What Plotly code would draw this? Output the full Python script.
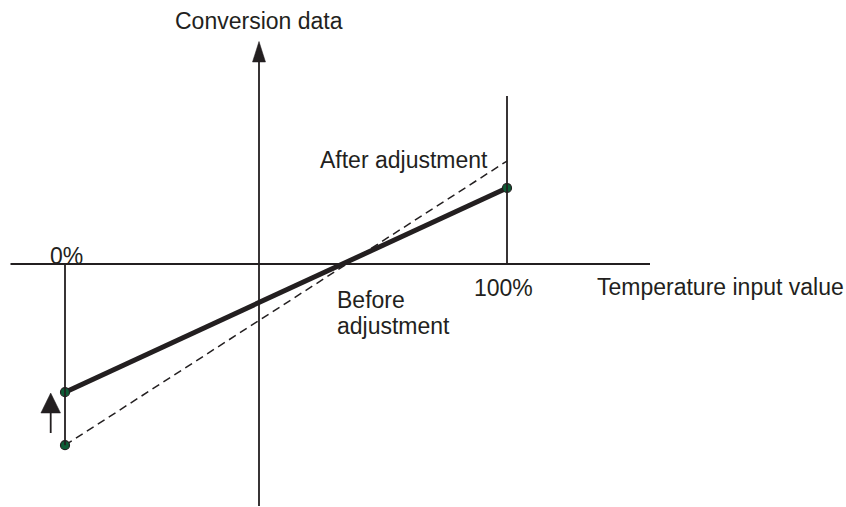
import plotly.graph_objects as go

# ---- data (input in %, conversion data in same relative units) ----
input_pct = [0, 100]
line_solid = [-29.0, 17.2]     # thick solid line
line_dashed = [-41.0, 23.3]    # thin dashed line
zero_pct_label = "0%"
full_pct_label = "100%"

W, H = 846, 507
PX_X0, PX_PER_UNIT, PX_Y0 = 65.0, 4.42, 264.0   # scale of the diagram
x_range = [(0 - PX_X0) / PX_PER_UNIT, (W - PX_X0) / PX_PER_UNIT]
y_range = [(PX_Y0 - H) / PX_PER_UNIT, (PX_Y0 - 0) / PX_PER_UNIT]

INK = "#231f20"
DOT = "#0d5c35"
FONT = "Liberation Sans, Arial, sans-serif"
FS = 23

def px(x):
    return x / W

def py(y):
    return 1 - y / H

fig = go.Figure()

# solid and dashed lines
fig.add_trace(go.Scatter(x=input_pct, y=line_dashed, mode="lines",
                         line=dict(color=INK, width=1.5, dash="8px,5px"),
                         hoverinfo="skip", showlegend=False))
fig.add_trace(go.Scatter(x=input_pct, y=line_solid, mode="lines",
                         line=dict(color=INK, width=5),
                         hoverinfo="skip", showlegend=False))

shapes = []
# horizontal axis
shapes.append(dict(type="line", xref="paper", yref="paper",
                   x0=px(10.5), x1=px(650), y0=py(PX_Y0), y1=py(PX_Y0),
                   line=dict(color=INK, width=1.8)))
# vertical axis
shapes.append(dict(type="line", xref="paper", yref="paper",
                   x0=px(259), x1=px(259), y0=py(58), y1=py(506),
                   line=dict(color=INK, width=1.8)))
# vertical at 0%
shapes.append(dict(type="line", xref="x", yref="y",
                   x0=input_pct[0], x1=input_pct[0], y0=0, y1=line_dashed[0],
                   line=dict(color=INK, width=1.8)))
# vertical at 100%
shapes.append(dict(type="line", xref="x", yref="paper",
                   x0=input_pct[1], x1=input_pct[1], y0=py(96), y1=py(PX_Y0),
                   line=dict(color=INK, width=1.8)))
# top arrow head
shapes.append(dict(type="path", xref="paper", yref="paper",
                   path=f"M {px(259)} {py(41.5)} L {px(265.5)} {py(62)} L {px(252.5)} {py(62)} Z",
                   fillcolor=INK, line=dict(color=INK, width=0.5)))
# small arrow on the left
shapes.append(dict(type="line", xref="paper", yref="paper",
                   x0=px(50.7), x1=px(50.7), y0=py(410), y1=py(433),
                   line=dict(color=INK, width=1.8)))
shapes.append(dict(type="path", xref="paper", yref="paper",
                   path=f"M {px(50.7)} {py(393)} L {px(60.5)} {py(413)} L {px(40.9)} {py(413)} Z",
                   fillcolor=INK, line=dict(color=INK, width=0.5)))
fig.update_layout(shapes=shapes)

# dots at the ends
fig.add_trace(go.Scatter(x=[input_pct[0], input_pct[0], input_pct[1]],
                         y=[line_solid[0], line_dashed[0], line_solid[1]],
                         mode="markers",
                         marker=dict(color=DOT, size=9, line=dict(color=INK, width=1.2)),
                         hoverinfo="skip", showlegend=False))

def label(text, x, y, xanchor="left", yanchor="middle"):
    fig.add_annotation(xref="paper", yref="paper", x=px(x), y=py(y), text=text,
                       showarrow=False, xanchor=xanchor, yanchor=yanchor,
                       font=dict(family=FONT, size=FS, color=INK))

label("Conversion data", 259, 21, xanchor="center")
label(zero_pct_label, 66, 256, xanchor="center")
label("After adjustment", 318, 160)
label("Before", 335, 300)
label("adjustment", 335, 326)
label(full_pct_label, 503, 288, xanchor="center")
label("Temperature input value", 595, 287)

fig.update_layout(
    width=W, height=H,
    margin=dict(l=0, r=0, t=0, b=0),
    paper_bgcolor="white", plot_bgcolor="white",
    xaxis=dict(range=x_range, visible=False, fixedrange=True),
    yaxis=dict(range=y_range, visible=False, fixedrange=True),
)

fig.write_html("out.html",
               config={"displayModeBar": False, "staticPlot": True},
               post_script="document.body.style.margin='0';document.body.style.overflow='hidden';")
